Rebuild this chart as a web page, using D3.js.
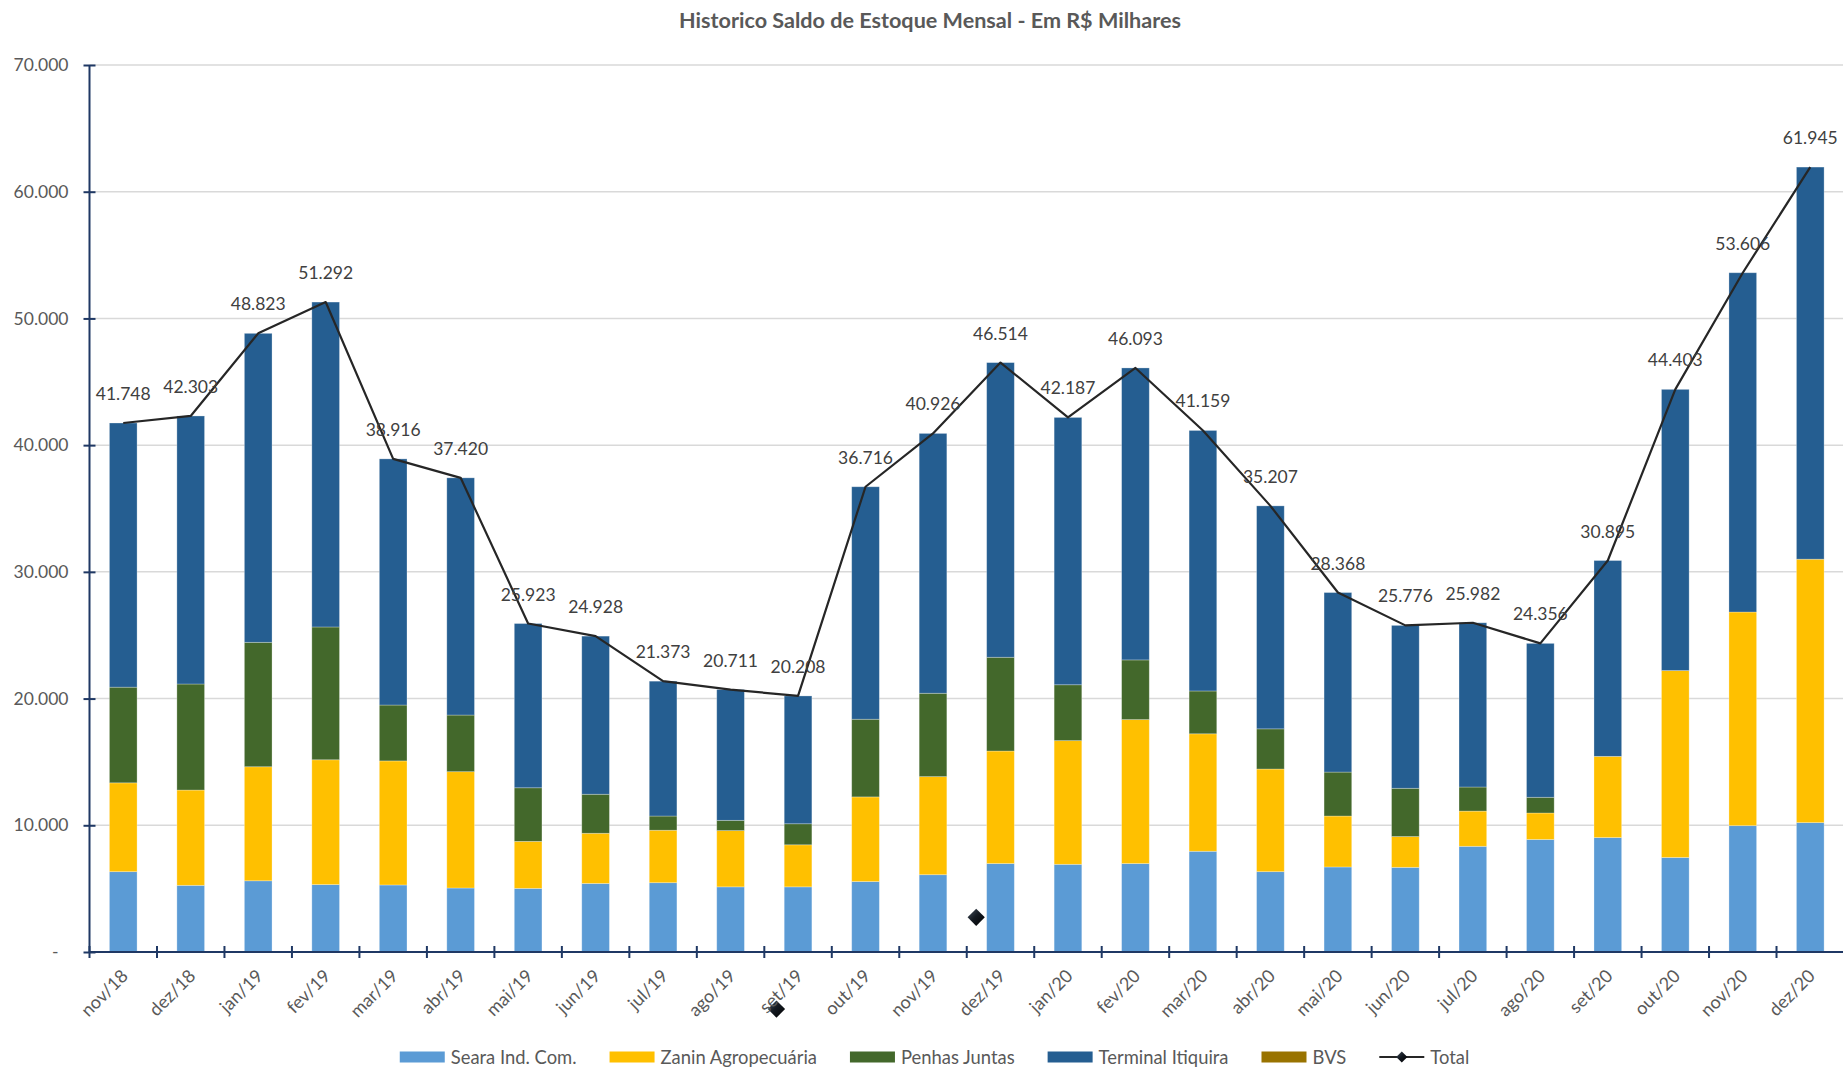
<!DOCTYPE html>
<html>
  <head>
    <meta charset="utf-8" />
    <title>Historico Saldo de Estoque Mensal</title>
    <script src="https://d3js.org/d3.v7.min.js"></script>
    <style>
      body { margin: 0; background: #fff; }
      text { font-family: Lato, "Open Sans", sans-serif; }
    </style>
  </head>
  <body>
    <svg id="chart"></svg>
    <script>
        var months = ["nov/18", "dez/18", "jan/19", "fev/19", "mar/19", "abr/19", "mai/19", "jun/19",
            "jul/19", "ago/19", "set/19", "out/19", "nov/19", "dez/19", "jan/20", "fev/20", "mar/20",
            "abr/20", "mai/20", "jun/20", "jul/20", "ago/20", "set/20", "out/20", "nov/20", "dez/20"];

        // values in R$ milhares
        var seara = [6340, 5260, 5620, 5320, 5290, 5050, 5020, 5410, 5470, 5140, 5140, 5560, 6100,
            6980, 6920, 6980, 7950, 6340, 6710, 6680, 8340, 8880, 9030, 7460, 9970, 10210];
        var zanin = [7010, 7520, 9000, 9850, 9790, 9180, 3710, 3960, 4140, 4440, 3320, 6680, 7740,
            8880, 9760, 11360, 9270, 8100, 4020, 2430, 2780, 2090, 6410, 14750, 16860, 20790];
        var penhas = [7550, 8370, 9820, 10480, 4410, 4470, 4230, 3080, 1120, 810, 1660, 6130, 6580,
            7400, 4410, 4710, 3380, 3170, 3470, 3810, 1900, 1240, 0, 0, 0, 0];
        var bvs = [0, 0, 0, 0, 0, 0, 0, 0, 0, 0, 0, 0, 0, 0, 0, 0, 0, 0, 0, 0, 0, 0, 0, 0, 0, 0];
        var total = [41748, 42303, 48823, 51292, 38916, 37420, 25923, 24928, 21373, 20711, 20208,
            36716, 40926, 46514, 42187, 46093, 41159, 35207, 28368, 25776, 25982, 24356, 30895,
            44403, 53606, 61945];
        // stray "Total" markers drawn loose in the original chart
        var strayMarkers = [
            { month: "set/19", shift: -0.32, value: -4500 },
            { month: "dez/19", shift: -0.36, value: 2740 }
        ];
        var yTicks = [0, 10000, 20000, 30000, 40000, 50000, 60000, 70000];

        var seriesNames = ["Seara Ind. Com.", "Zanin Agropecuária", "Penhas Juntas", "Terminal Itiquira", "BVS"];
        var colors = ["#5b9bd5", "#ffc000", "#43682b", "#255e91", "#997300"];

        var W = 1843, H = 1068;
        var mLeft = 89.5, mRight = 1844, mBottom = 952, mTop = 65;

        var br = d3.formatLocale({ decimal: ",", thousands: ".", grouping: [3], currency: ["R$", ""] });
        var fmt = br.format(",.0f");

        var svg = d3.select("#chart").attr("width", W).attr("height", H);

        // terminal is what remains up to the total
        var rows = months.map(function (m, i) {
            var terminal = total[i] - seara[i] - zanin[i] - penhas[i] - bvs[i];
            return { month: m, s0: seara[i], s1: zanin[i], s2: penhas[i], s3: terminal, s4: bvs[i], total: total[i] };
        });
        var keys = ["s0", "s1", "s2", "s3", "s4"];
        var stacked = d3.stack().keys(keys)(rows);

        var x = d3.scaleBand().domain(months).range([mLeft, mRight]).paddingInner(0.59).paddingOuter(0.295);
        var y = d3.scaleLinear().domain([0, 70000]).range([mBottom, mTop]);
        var cx = function (m) { return x(m) + x.bandwidth() / 2; };

        // title
        svg.append("text")
            .attr("x", 930).attr("y", 28)
            .attr("text-anchor", "middle")
            .attr("font-size", 21.6).attr("font-weight", "bold")
            .attr("fill", "#595959")
            .text("Historico Saldo de Estoque Mensal - Em R$ Milhares");

        // grid
        svg.append("g").selectAll("line").data(yTicks.slice(1)).join("line")
            .attr("x1", mLeft).attr("x2", W)
            .attr("y1", function (d) { return y(d); }).attr("y2", function (d) { return y(d); })
            .attr("stroke", "#d9d9d9").attr("stroke-width", 1.5);

        // bars
        svg.append("g").selectAll("g").data(stacked).join("g")
            .attr("fill", function (d, i) { return colors[i]; })
            .selectAll("rect").data(function (d) { return d; }).join("rect")
            .attr("x", function (d) { return x(d.data.month); })
            .attr("width", x.bandwidth())
            .attr("y", function (d) { return y(d[1]); })
            .attr("height", function (d) { return y(d[0]) - y(d[1]); })
            .attr("stroke", "#ffffff").attr("stroke-opacity", 0.35).attr("stroke-width", 0.8);

        // total line
        var line = d3.line()
            .x(function (d) { return cx(d.month); })
            .y(function (d) { return y(d.total); });
        svg.append("path").datum(rows)
            .attr("d", line)
            .attr("fill", "none").attr("stroke", "#262626").attr("stroke-width", 2.2)
            .attr("stroke-linejoin", "round");

        // data labels
        svg.append("g").selectAll("text").data(rows).join("text")
            .attr("x", function (d) { return cx(d.month); })
            .attr("y", function (d) { return y(d.total) - 23; })
            .attr("text-anchor", "middle")
            .attr("font-size", 17.5).attr("fill", "#404040")
            .text(function (d) { return fmt(d.total); });

        // diamond markers
        var defs = svg.append("defs");
        var grad = defs.append("linearGradient").attr("id", "dia")
            .attr("x1", "0").attr("y1", "0").attr("x2", "1").attr("y2", "1");
        grad.append("stop").attr("offset", "0%").attr("stop-color", "#4a5563");
        grad.append("stop").attr("offset", "45%").attr("stop-color", "#141a22");
        grad.append("stop").attr("offset", "100%").attr("stop-color", "#000000");
        var diamond = d3.symbol().type(d3.symbolDiamond2).size(190);
        svg.append("g").selectAll("path").data(strayMarkers).join("path")
            .attr("d", diamond)
            .attr("transform", function (d) {
                return "translate(" + (cx(d.month) + d.shift * x.step()) + "," + y(d.value) + ")";
            })
            .attr("fill", "url(#dia)");

        // y axis
        var yAxis = svg.append("g")
            .attr("transform", "translate(" + mLeft + ",0)")
            .call(d3.axisLeft(y).tickValues(yTicks).tickSize(6).tickPadding(15)
                .tickFormat(function (d) { return d === 0 ? "-" : fmt(d); }));
        yAxis.select(".domain").attr("stroke", "#1f3864").attr("stroke-width", 2).attr("d", "M0," + mBottom + "V" + mTop);
        yAxis.selectAll(".tick line").attr("x1", 6).attr("stroke", "#1f3864").attr("stroke-width", 2);
        yAxis.selectAll(".tick text").attr("font-size", 17.5).attr("fill", "#595959")
            .attr("font-family", "Lato, sans-serif")
            .attr("dx", function (d) { return d === 0 ? -10 : 0; });

        // x axis (ticks between categories)
        var bounds = d3.range(months.length + 1).map(function (i) { return mLeft + i * x.step(); });
        var xg = svg.append("g");
        xg.append("line").attr("x1", mLeft).attr("x2", W).attr("y1", mBottom).attr("y2", mBottom)
            .attr("stroke", "#1f3864").attr("stroke-width", 2);
        xg.selectAll("line.tk").data(bounds).join("line").attr("class", "tk")
            .attr("x1", function (d) { return d; }).attr("x2", function (d) { return d; })
            .attr("y1", mBottom - 6).attr("y2", mBottom + 6)
            .attr("stroke", "#1f3864").attr("stroke-width", 2);
        xg.selectAll("text").data(months).join("text")
            .attr("transform", function (d) { return "translate(" + (cx(d) + 6) + "," + (mBottom + 25) + ") rotate(-45)"; })
            .attr("text-anchor", "end")
            .attr("font-size", 18).attr("fill", "#595959")
            .text(function (d) { return d; });

        // legend
        var legendItems = seriesNames.map(function (n, i) { return { name: n, color: colors[i], kind: "bar" }; });
        legendItems.push({ name: "Total", color: "#262626", kind: "line" });
        var lg = svg.append("g");
        var lx = 0;
        legendItems.forEach(function (d) {
            var g = lg.append("g").attr("transform", "translate(" + lx + ",0)");
            if (d.kind === "bar") {
                g.append("rect").attr("x", 0).attr("y", -5.5).attr("width", 45).attr("height", 11).attr("fill", d.color);
            } else {
                g.append("line").attr("x1", 0).attr("x2", 45).attr("y1", 0).attr("y2", 0)
                    .attr("stroke", d.color).attr("stroke-width", 2.2);
                g.append("path").attr("d", d3.symbol().type(d3.symbolDiamond2).size(80))
                    .attr("transform", "translate(22.5,0)").attr("fill", "url(#dia)");
            }
            var t = g.append("text").attr("x", 51).attr("y", 6.5)
                .attr("font-size", 18.4).attr("fill", "#595959").text(d.name);
            lx += 51 + t.node().getComputedTextLength() + 33;
        });
        var legendWidth = lx - 33;
        lg.attr("transform", "translate(" + (934.5 - legendWidth / 2) + ",1057)");
    </script>
  </body>
</html>
